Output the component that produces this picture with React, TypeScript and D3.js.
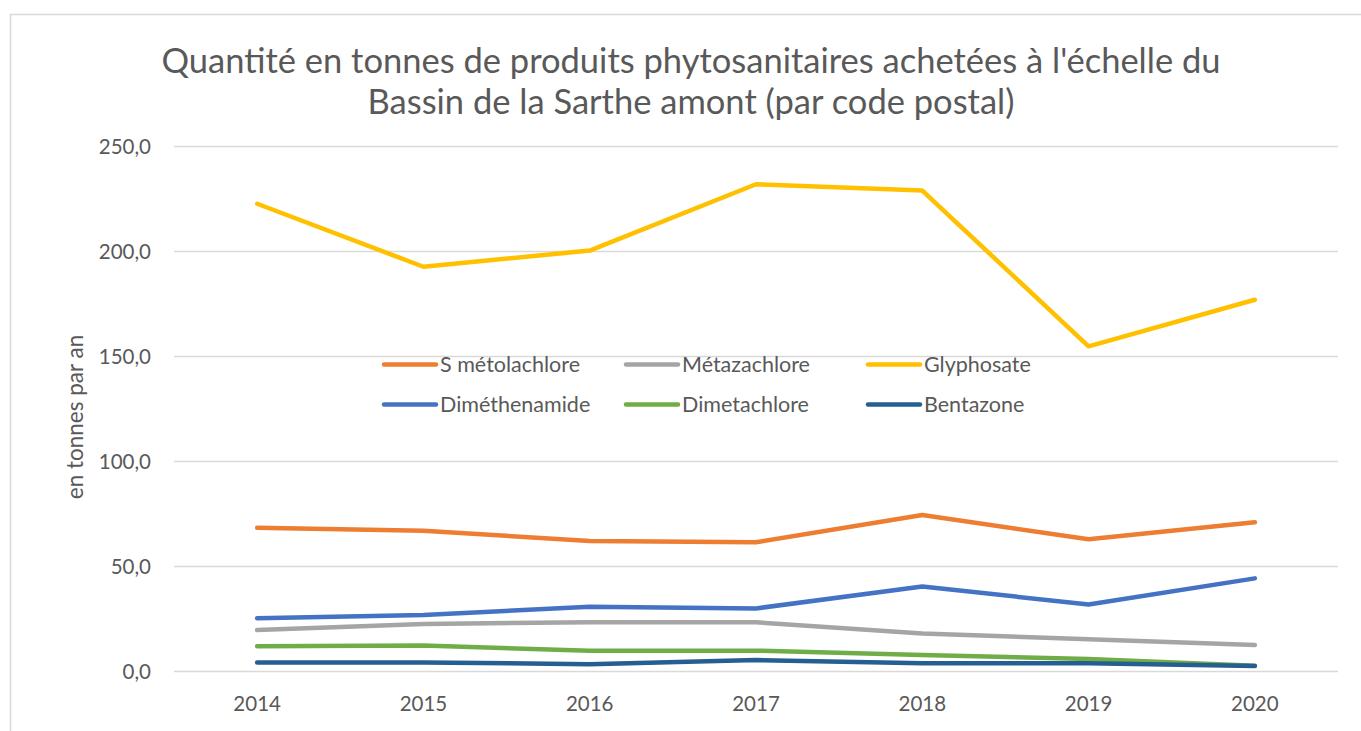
import { useEffect, useRef } from "react"
import * as d3 from "d3"

const years = ["2014", "2015", "2016", "2017", "2018", "2019", "2020"]

const sMetolachlore = [68.2, 66.8, 61.9, 61.3, 74.3, 62.7, 70.8]
const metazachlore = [19.5, 22.4, 23.2, 23.2, 17.9, 15.1, 12.4]
const glyphosate = [222.5, 192.5, 200.2, 231.8, 228.8, 154.6, 176.8]
const dimethenamide = [25.1, 26.7, 30.6, 29.8, 40.2, 31.7, 44.1]
const dimetachlore = [11.8, 12.1, 9.7, 9.7, 7.6, 5.7, 2.5]
const bentazone = [4.1, 4.1, 3.2, 5.2, 3.7, 3.7, 2.4]

const seriesNames = ["S métolachlore", "Métazachlore", "Glyphosate", "Diméthenamide", "Dimetachlore", "Bentazone"]
const seriesColors = ["#ED7D31", "#A5A5A5", "#FFC000", "#4472C4", "#70AD47", "#255E91"]
const seriesValues = [sMetolachlore, metazachlore, glyphosate, dimethenamide, dimetachlore, bentazone]

const yTicks = [0, 50, 100, 150, 200, 250]

const W = 1361
const H = 731
const FONT = "Lato, 'Open Sans', sans-serif"
const TEXT = "#595959"

const App = () => {
  const svgRef = useRef<SVGSVGElement>(null)

  useEffect(() => {
    const svg = d3.select(svgRef.current)
    svg.selectAll("*").remove()

    // chart frame
    svg
      .append("rect")
      .attr("x", 10.5)
      .attr("y", 14.5)
      .attr("width", W)
      .attr("height", H)
      .attr("fill", "white")
      .attr("stroke", "#d9d9d9")
      .attr("stroke-width", 1.5)

    const plot = { left: 174, right: 1338, top: 146, bottom: 671 }

    const x = d3.scaleBand().domain(years).range([plot.left, plot.right])
    const y = d3.scaleLinear().domain([0, 250]).range([plot.bottom, plot.top])

    // gridlines
    svg
      .append("g")
      .selectAll("line")
      .data(yTicks)
      .join("line")
      .attr("x1", plot.left)
      .attr("x2", plot.right)
      .attr("y1", (d) => Math.round(y(d)) + 0.5)
      .attr("y2", (d) => Math.round(y(d)) + 0.5)
      .attr("stroke", "#d9d9d9")
      .attr("stroke-width", 1.3)

    // y tick labels
    svg
      .append("g")
      .selectAll("text")
      .data(yTicks)
      .join("text")
      .attr("x", 151)
      .attr("y", (d) => y(d) + 7.5)
      .attr("text-anchor", "end")
      .attr("font-family", FONT)
      .attr("font-size", 20.5)
      .attr("fill", TEXT)
      .text((d) => d3.format(".1f")(d).replace(".", ","))

    // x tick labels
    svg
      .append("g")
      .selectAll("text")
      .data(years)
      .join("text")
      .attr("x", (d) => x(d)! + x.bandwidth() / 2)
      .attr("y", 711)
      .attr("text-anchor", "middle")
      .attr("font-family", FONT)
      .attr("font-size", 20.5)
      .attr("fill", TEXT)
      .text((d) => d)

    // y axis title
    svg
      .append("text")
      .attr("transform", "translate(83,417) rotate(-90)")
      .attr("text-anchor", "middle")
      .attr("font-family", FONT)
      .attr("font-size", 22.5)
      .attr("fill", TEXT)
      .text("en tonnes par an")

    // title
    const title = svg
      .append("text")
      .attr("text-anchor", "middle")
      .attr("font-family", FONT)
      .attr("font-size", 34.5)
      .attr("fill", TEXT)
    title.append("tspan").attr("x", 691).attr("y", 73).text("Quantité en tonnes de produits phytosanitaires achetées à l'échelle du")
    title.append("tspan").attr("x", 691).attr("y", 114).text("Bassin de la Sarthe amont (par code postal)")

    // series
    const line = d3
      .line<number>()
      .x((d, i) => x(years[i])! + x.bandwidth() / 2)
      .y((d) => y(d))

    seriesValues.forEach((vals, i) => {
      svg
        .append("path")
        .datum(vals)
        .attr("fill", "none")
        .attr("stroke", seriesColors[i])
        .attr("stroke-width", 4.5)
        .attr("stroke-linecap", "round")
        .attr("stroke-linejoin", "round")
        .attr("d", line)
    })

    // legend
    const legend = svg.append("g")
    seriesNames.forEach((name, i) => {
      const col = i % 3
      const row = Math.floor(i / 3)
      const lx = 384 + col * 242
      const ly = 364.5 + row * 40
      legend
        .append("line")
        .attr("x1", lx)
        .attr("x2", lx + 52)
        .attr("y1", ly)
        .attr("y2", ly)
        .attr("stroke", seriesColors[i])
        .attr("stroke-width", 4.5)
        .attr("stroke-linecap", "round")
      legend
        .append("text")
        .attr("x", lx + 56)
        .attr("y", ly + 7)
        .attr("font-family", FONT)
        .attr("font-size", 21.5)
        .attr("fill", TEXT)
        .text(name)
    })
  }, [])

  return (
    <svg
      ref={svgRef}
      width={W}
      height={H}
      style={{ position: "fixed", top: 0, left: 0, display: "block", background: "white" }}
    ></svg>
  )
}

export default App
